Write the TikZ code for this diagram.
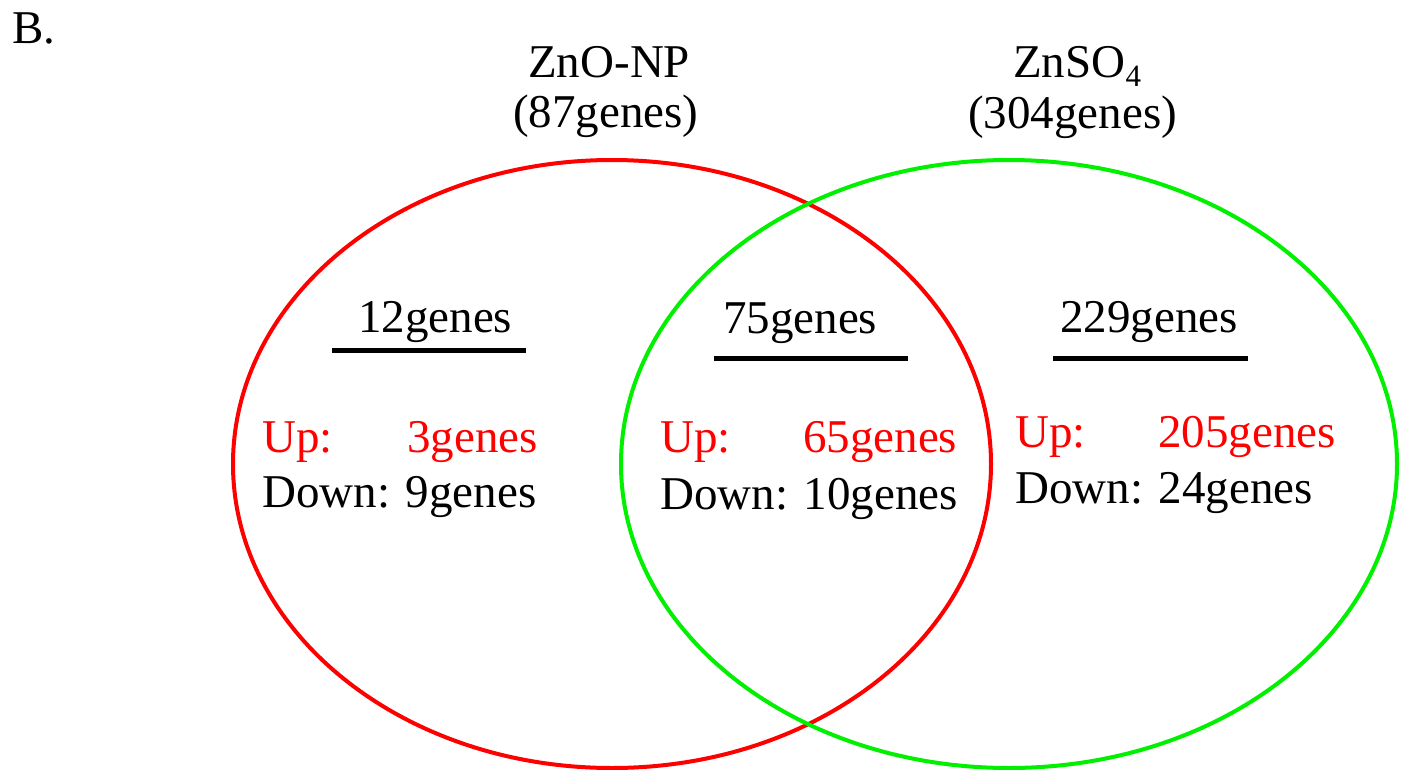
\documentclass[tikz,border=0pt]{standalone}
\usepackage{fontspec}
\setmainfont{Liberation Serif}
\definecolor{setred}{RGB}{255,0,0}
\definecolor{setgreen}{RGB}{0,240,0}
\newcommand{\lowfour}{\raisebox{-9pt}{\fontsize{31}{31}\selectfont 4}}
\begin{document}
\begin{tikzpicture}[x=1pt,y=-1pt,
  txt/.style={font=\fontsize{47}{50}\selectfont, inner sep=0pt, anchor=base west},
  uptxt/.style={txt, text=setred},
  rule/.style={line width=5pt, black},
  setline/.style={line width=4pt}]
  \useasboundingbox (0,0) rectangle (1401,769);

  % the two sets
  \draw[setline, setred]   (612,464) ellipse [x radius=379pt, y radius=304pt];
  \draw[setline, setgreen] (1009,464) ellipse [x radius=388pt, y radius=304pt];

  % panel label and set titles
  \node[txt] (panel) at (12,43) {B.};
  \node[txt] (titleA) at (528,77) {ZnO-NP};
  \node[txt] (countA) at (513,127) {(87genes)};
  \node[txt] (titleB) at (1013,77) {ZnSO\lowfour};
  \node[txt] (countB) at (968,128) {(304genes)};

  % only ZnO-NP
  \node[txt] (onlyA) at (358,332) {12genes};
  \draw[rule] (332,350.5) -- (526,350.5);
  \node[uptxt] (upA) at (262,452) {Up:};
  \node[uptxt] (upAn) at (407,452) {3genes};
  \node[txt] (downA) at (262,507) {Down: 9genes};

  % shared
  \node[txt] (both) at (723,333) {75genes};
  \draw[rule] (714,358.5) -- (908,358.5);
  \node[uptxt] (upAB) at (660,452) {Up:};
  \node[uptxt] (upABn) at (803,452) {65genes};
  \node[txt] (downAB) at (660,509) {Down: 10genes};

  % only ZnSO4
  \node[txt] (onlyB) at (1060,332) {229genes};
  \draw[rule] (1053,358.5) -- (1248,358.5);
  \node[uptxt] (upB) at (1015,447) {Up:};
  \node[uptxt] (upBn) at (1158,447) {205genes};
  \node[txt] (downB) at (1015,503) {Down: 24genes};
\end{tikzpicture}
\end{document}
